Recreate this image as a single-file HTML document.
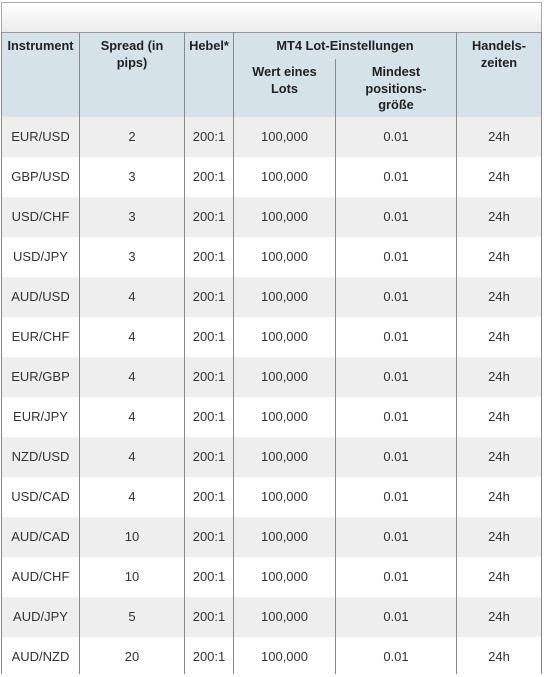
<!DOCTYPE html>
<html><head><meta charset="utf-8"><style>
body{margin:0;width:544px;height:674px;overflow:hidden;background:#fff;font-family:"Liberation Sans",Arial,sans-serif;position:relative}
.abs{position:absolute}
.top{left:1px;top:2px;width:539px;height:29px;border:1px solid #aaa;border-bottom:1px solid #999;background:linear-gradient(#fff,#ececec)}
.hdr{left:2px;top:33px;width:539px;height:84px;background:#d5e3e8}
.vl{width:1px;background:#888}
.h{font-weight:bold;font-size:12.8px;color:#222;text-align:center;line-height:16.5px}
.row{left:2px;width:539px;height:40px}
.c{position:absolute;top:0;height:40px;line-height:40px;text-align:center;font-size:13px;color:#333}
</style></head><body>
<div class="abs top"></div>
<div class="abs hdr"></div>
<div id="rows"></div>
<div class="abs h" style="left:2px;top:38px;width:77px">Instrument</div>
<div class="abs h" style="left:80px;top:38px;width:104px">Spread (in<br>pips)</div>
<div class="abs h" style="left:185px;top:38px;width:48px">Hebel*</div>
<div class="abs h" style="left:234px;top:38px;width:222px">MT4 Lot-Einstellungen</div>
<div class="abs h" style="left:234px;top:64px;width:101px">Wert eines<br>Lots</div>
<div class="abs h" style="left:336px;top:64px;width:120px">Mindest<br>positions-<br>größe</div>
<div class="abs h" style="left:457px;top:38px;width:84px">Handels-<br>zeiten</div>
<div class="abs vl" style="left:1px;top:32px;height:642px"></div>
<div class="abs vl" style="left:79px;top:32px;height:642px"></div>
<div class="abs vl" style="left:184px;top:32px;height:642px"></div>
<div class="abs vl" style="left:233px;top:32px;height:642px"></div>
<div class="abs vl" style="left:335px;top:59px;height:615px"></div>
<div class="abs vl" style="left:456px;top:32px;height:642px"></div>
<div class="abs vl" style="left:541px;top:32px;height:642px"></div>
<script>
const pairs=["EUR/USD","GBP/USD","USD/CHF","USD/JPY","AUD/USD","EUR/CHF","EUR/GBP","EUR/JPY","NZD/USD","USD/CAD","AUD/CAD","AUD/CHF","AUD/JPY","AUD/NZD"];
const spreads=["2","3","3","3","4","4","4","4","4","4","10","10","5","20"];
const cols=[[2,77],[80,104],[185,48],[234,101],[336,120],[457,84]];
const box=document.getElementById('rows');
pairs.forEach((p,i)=>{
  const r=document.createElement('div');
  r.className='abs row';
  r.style.top=(117+i*40)+'px';
  r.style.background=i%2==0?'#eeeeee':'#fff';
  
  
  const vals=[p,spreads[i],"200:1","100,000","0.01","24h"];
  vals.forEach((v,j)=>{
    const c=document.createElement('div');
    c.className='c';
    c.style.left=(cols[j][0]-2)+'px';
    c.style.width=cols[j][1]+'px';
    c.textContent=v;
    
    
    r.appendChild(c);
  });
  box.appendChild(r);
});
</script>
</body></html>
